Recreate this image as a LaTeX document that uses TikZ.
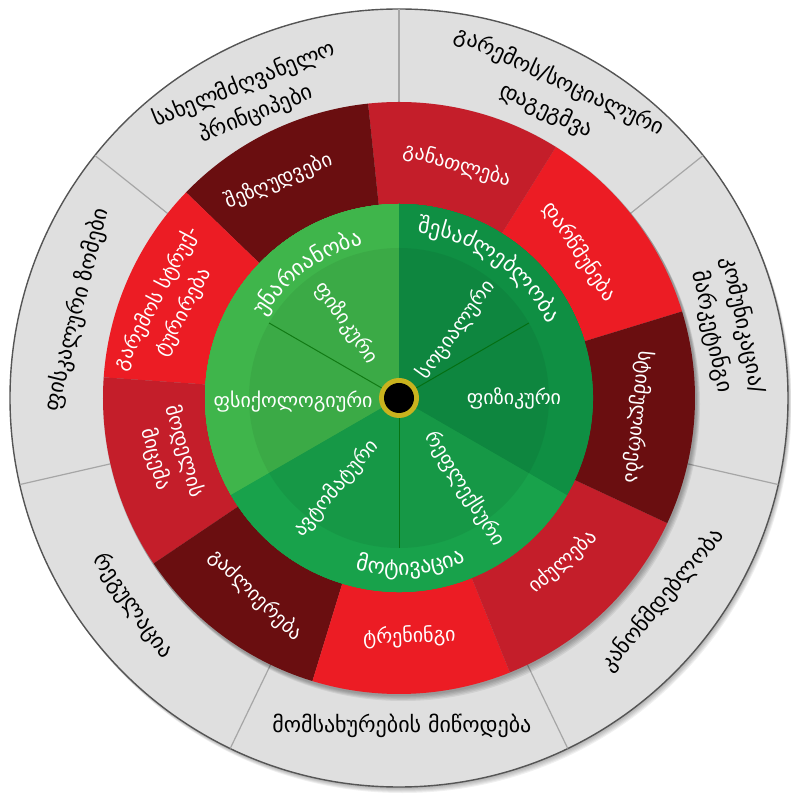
\documentclass[tikz,border=0pt]{standalone}
\usepackage{fontspec}
\setmainfont{DejaVu Sans}
\usetikzlibrary{decorations.text}
\definecolor{rimgray}{HTML}{DFDFDF}
\definecolor{rimline}{HTML}{555555}
\definecolor{darkred}{HTML}{6A0E10}
\definecolor{midred}{HTML}{C41E2A}
\definecolor{brightred}{HTML}{EC1C24}
\definecolor{capgreen}{HTML}{3FB54B}
\definecolor{oppgreen}{HTML}{0F8F43}
\definecolor{motgreen}{HTML}{18A24B}
\definecolor{hubyellow}{HTML}{C9B31E}
\newcommand{\band}[5]{\fill[#5] (#3:#1) arc[start angle=#3,end angle=#4,radius=#1] -- (#4:#2) arc[start angle=#4,end angle=#3,radius=#2] -- cycle;}
\newcommand{\arclabel}[4]{\path[decorate,decoration={text along path,text align=center,text color=white,text={|\fontsize{22}{22}\selectfont|#4}}] (#2:#1) arc[start angle=#2,end angle=#3,radius=#1];}
\tikzset{
  rimlabel/.style={font=\fontsize{22}{32}\selectfont,align=center,inner sep=0},
  redlabel/.style={font=\fontsize{20}{30}\selectfont,text=white,align=center,inner sep=0},
  greenlabel/.style={font=\fontsize{20}{22}\selectfont,text=white,inner sep=0}
}

\begin{document}
\begin{tikzpicture}[x=1pt,y=1pt]
\useasboundingbox (-399,-401) rectangle (391,398);
% outer rim
\foreach \i in {1,...,6} \fill[black,opacity=.06] (.6*\i,-\i) circle (389);
\fill[rimgray] (0,0) circle (389);
\draw[rimline,line width=1.4] (0,0) circle (389);
\foreach \k in {0,...,6} \draw[black!35,line width=1.2] ({90-\k*360/7}:296) -- ({90-\k*360/7}:389);
% intervention ring
\foreach \i in {1,...,5} \fill[black,opacity=.07] (.8*\i,-1.2*\i) circle (297);
\foreach \s/\e/\c in {17/58/brightred,58/96/midred,96/136/darkred,136/176/brightred,176/214/midred,214/253/darkred,253/292/brightred,292/335/midred,335/377/darkred}
  \band{296}{194}{\s}{\e}{\c}
% com-b disc
\foreach \s/\c in {90/capgreen,210/motgreen,330/oppgreen}
  \fill[\c] (0,0) -- (\s:194) arc[start angle=\s,delta angle=120,radius=194] -- cycle;
\fill[black,opacity=.06] (0,0) circle (150);
\foreach \a in {30,150,270} \draw[black!60!green,opacity=.7,line width=1] (0,0) -- (\a:150);
\fill[hubyellow] (0,0) circle (20);
\fill[black] (0,0) circle (15);

\node[rimlabel,rotate=-25] (envplan) at (63:339) {გარემოს/სოციალური\\დაგეგმვა};
\node[rimlabel,rotate=-78] (comm) at (12:336) {კომუნიკაცია/\\მარკეტინგი};
\node[rimlabel,rotate=50] (legis) at (-37.5:332) {კანონმდებლობა};
\node[rimlabel] (service) at (-89.5:328) {მომსახურების მიწოდება};
\node[rimlabel,rotate=-55] (regul) at (-142:338) {რეგულაცია};
\node[rimlabel,rotate=76] (fiscal) at (164.7:334) {ფისკალური ზომები};
\node[rimlabel,rotate=22] (guide) at (116.5:334) {სახელმძღვანელო\\პრინციპები};

\node[redlabel,rotate=23] (restrict) at (119:248) {შეზღუდვები};
\node[redlabel,rotate=-16] (educ) at (76:240) {განათლება};
\node[redlabel,rotate=-56] (persuade) at (39:232) {დარწმუნება};
\node[redlabel,rotate=-96] (incent) at (-4.5:240) {სტიმულირება};
\node[redlabel,rotate=41] (coerce) at (-45:232) {იძულება};
\node[redlabel,rotate=2] (train) at (-87.5:239) {ტრენინგი};
\node[redlabel,rotate=-44] (enable) at (-126:244) {გაძლიერება};
\node[redlabel,rotate=-74] (model) at (194:236) {მოდელის\\მიცემა};
\node[redlabel,rotate=62] (restruct) at (158:247) {გარემოს სტრუქ-\\ტურირება};

\arclabel{157}{175}{77}{უნარიანობა}
\arclabel{166}{104}{6}{შესაძლებლობა}
\arclabel{177}{-135}{-37}{მოტივაცია}
\node[greenlabel,rotate=-55] (capphys) at (125:92) {ფიზიკური};
\node[greenlabel] (cappsy) at (182:106) {ფსიქოლოგიური};
\node[greenlabel,rotate=50] (motauto) at (235:110) {ავტომატური};
\node[greenlabel,rotate=-58] (motrefl) at (-54:112) {რეფლექსური};
\node[greenlabel] (oppphys) at (0:115) {ფიზიკური};
\node[greenlabel,rotate=54] (oppsoc) at (50:89) {სოციალური};
\end{tikzpicture}
\end{document}
